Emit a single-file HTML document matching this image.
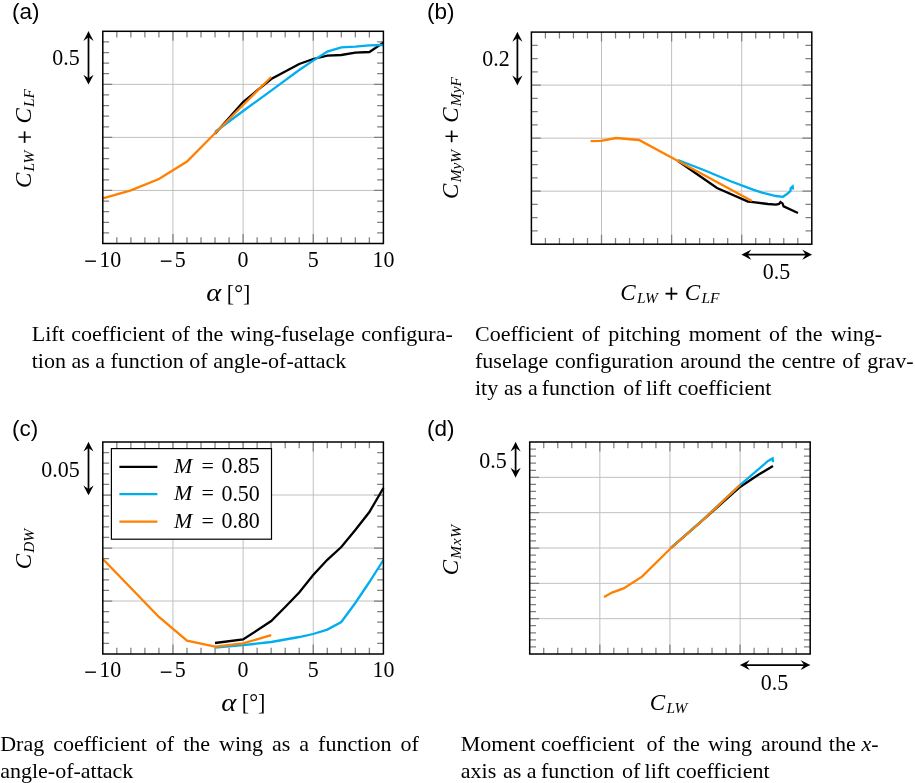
<!DOCTYPE html>
<html lang="en"><head><meta charset="utf-8"><title>Aerodynamic coefficients</title>
<style>html,body{margin:0;padding:0;background:#fff}body{width:915px;height:783px;overflow:hidden}svg{display:block}</style>
</head><body>
<svg width="915" height="783" viewBox="0 0 915 783">
<rect width="915" height="783" fill="#fff"/>
<g id="pa">
<line x1="172.95" y1="31.3" x2="172.95" y2="243.5" stroke="#c0c0c0" stroke-width="1"/>
<line x1="243.10" y1="31.3" x2="243.10" y2="243.5" stroke="#c0c0c0" stroke-width="1"/>
<line x1="313.25" y1="31.3" x2="313.25" y2="243.5" stroke="#c0c0c0" stroke-width="1"/>
<line x1="102.8" y1="84.35" x2="383.40" y2="84.35" stroke="#c0c0c0" stroke-width="1"/>
<line x1="102.8" y1="137.40" x2="383.40" y2="137.40" stroke="#c0c0c0" stroke-width="1"/>
<line x1="102.8" y1="190.45" x2="383.40" y2="190.45" stroke="#c0c0c0" stroke-width="1"/>
<path d="M116.83,31.3v6.3M116.83,243.5v-6.3M130.86,31.3v6.3M130.86,243.5v-6.3M144.89,31.3v6.3M144.89,243.5v-6.3M158.92,31.3v6.3M158.92,243.5v-6.3M172.95,31.3v9.4M172.95,243.5v-9.4M186.98,31.3v6.3M186.98,243.5v-6.3M201.01,31.3v6.3M201.01,243.5v-6.3M215.04,31.3v6.3M215.04,243.5v-6.3M229.07,31.3v6.3M229.07,243.5v-6.3M243.10,31.3v9.4M243.10,243.5v-9.4M257.13,31.3v6.3M257.13,243.5v-6.3M271.16,31.3v6.3M271.16,243.5v-6.3M285.19,31.3v6.3M285.19,243.5v-6.3M299.22,31.3v6.3M299.22,243.5v-6.3M313.25,31.3v9.4M313.25,243.5v-9.4M327.28,31.3v6.3M327.28,243.5v-6.3M341.31,31.3v6.3M341.31,243.5v-6.3M355.34,31.3v6.3M355.34,243.5v-6.3M369.37,31.3v6.3M369.37,243.5v-6.3M102.8,41.91h6.3M383.40,41.91h-6.3M102.8,52.52h6.3M383.40,52.52h-6.3M102.8,63.13h6.3M383.40,63.13h-6.3M102.8,73.74h6.3M383.40,73.74h-6.3M102.8,84.35h9.4M383.40,84.35h-9.4M102.8,94.96h6.3M383.40,94.96h-6.3M102.8,105.57h6.3M383.40,105.57h-6.3M102.8,116.18h6.3M383.40,116.18h-6.3M102.8,126.79h6.3M383.40,126.79h-6.3M102.8,137.40h9.4M383.40,137.40h-9.4M102.8,148.01h6.3M383.40,148.01h-6.3M102.8,158.62h6.3M383.40,158.62h-6.3M102.8,169.23h6.3M383.40,169.23h-6.3M102.8,179.84h6.3M383.40,179.84h-6.3M102.8,190.45h9.4M383.40,190.45h-9.4M102.8,201.06h6.3M383.40,201.06h-6.3M102.8,211.67h6.3M383.40,211.67h-6.3M102.8,222.28h6.3M383.40,222.28h-6.3M102.8,232.89h6.3M383.40,232.89h-6.3" stroke="#808080" stroke-width="1.25" fill="none"/>
<polyline points="215.0,133.8 243.1,102.0 271.2,79.0 299.2,64.0 313.2,59.0 327.3,55.6 341.3,55.0 355.3,52.6 369.4,52.0 383.4,42.6" fill="none" stroke="#000" stroke-width="2.3" stroke-linejoin="miter" stroke-miterlimit="6"/>
<polyline points="215.0,132.0 243.1,111.0 271.2,90.6 299.2,70.0 313.2,60.6 327.3,51.6 341.3,47.4 355.3,46.6 369.4,45.4 383.4,45.0" fill="none" stroke="#00aeef" stroke-width="2.3" stroke-linejoin="miter" stroke-miterlimit="6"/>
<polyline points="102.8,198.4 130.9,190.4 158.9,179.0 187.0,161.6 215.0,133.3 243.1,105.0 271.2,77.0" fill="none" stroke="#ff8000" stroke-width="2.3" stroke-linejoin="miter" stroke-miterlimit="6"/>
<rect x="102.8" y="31.3" width="280.6" height="212.2" fill="none" stroke="#000" stroke-width="1.5"/>
<line x1="88.50" y1="35.30" x2="88.50" y2="80.30" stroke="#000" stroke-width="1.75"/>
<path d="M0.3,0 C-2.6,-1.3 -6,-3.2 -9.6,-5.1 L-6.0,0 L-9.6,5.1 C-6,3.2 -2.6,1.3 0.3,0Z" transform="translate(88.50,84.30) rotate(90.0)" fill="#000"/>
<path d="M0.3,0 C-2.6,-1.3 -6,-3.2 -9.6,-5.1 L-6.0,0 L-9.6,5.1 C-6,3.2 -2.6,1.3 0.3,0Z" transform="translate(88.50,31.30) rotate(270.0)" fill="#000"/>
<text transform="translate(79.7,65.2) scale(0.915,1)" text-anchor="end" font-family="'Liberation Serif', 'Times New Roman', serif" font-size="24">0.5</text>
<text transform="translate(102.8,266.5) scale(0.915,1)" text-anchor="middle" font-family="'Liberation Serif', 'Times New Roman', serif" font-size="24"><tspan dy="2.6" stroke="#000" stroke-width="0.35">−</tspan><tspan dy="-2.6" dx="2.6">10</tspan></text>
<text transform="translate(172.9,266.5) scale(0.915,1)" text-anchor="middle" font-family="'Liberation Serif', 'Times New Roman', serif" font-size="24"><tspan dy="2.6" stroke="#000" stroke-width="0.35">−</tspan><tspan dy="-2.6" dx="2.6">5</tspan></text>
<text transform="translate(243.1,266.5) scale(0.915,1)" text-anchor="middle" font-family="'Liberation Serif', 'Times New Roman', serif" font-size="24">0</text>
<text transform="translate(313.2,266.5) scale(0.915,1)" text-anchor="middle" font-family="'Liberation Serif', 'Times New Roman', serif" font-size="24">5</text>
<text transform="translate(383.4,266.5) scale(0.915,1)" text-anchor="middle" font-family="'Liberation Serif', 'Times New Roman', serif" font-size="24">10</text>
<text x="11.9" y="18.6" text-anchor="start" font-family="'Liberation Sans', Arial, sans-serif" font-size="22.5" >(a)</text>
<text transform="translate(30.6,138.5) rotate(-90)" text-anchor="middle" font-family="'Liberation Serif', 'Times New Roman', serif" font-size="22"><tspan font-style="italic" font-size="23.1" dy="0.3" dx="0">C</tspan><tspan font-style="italic" font-size="15.4" dy="2.9" dx="1.2">LW</tspan><tspan dy="-1.2" dx="0.5" font-size="24.5" stroke="#000" stroke-width="0.3"> + </tspan><tspan font-style="italic" font-size="23.1" dy="-1.7" dx="0.5">C</tspan><tspan font-style="italic" font-size="15.4" dy="2.9" dx="1.2">LF</tspan></text>
<text transform="translate(206.2,301.0) scale(1.17,1)" font-family="'Liberation Serif', 'Times New Roman', serif" font-size="24.5" font-style="italic">α</text>
<text transform="translate(226.8,300.6) scale(0.94,1)" font-family="'Liberation Serif', 'Times New Roman', serif" font-size="23.5">[°]</text>
</g>
<g id="pb">
<line x1="601.50" y1="32.1" x2="601.50" y2="244.2" stroke="#c0c0c0" stroke-width="1"/>
<line x1="671.60" y1="32.1" x2="671.60" y2="244.2" stroke="#c0c0c0" stroke-width="1"/>
<line x1="741.70" y1="32.1" x2="741.70" y2="244.2" stroke="#c0c0c0" stroke-width="1"/>
<line x1="531.4" y1="85.12" x2="811.80" y2="85.12" stroke="#c0c0c0" stroke-width="1"/>
<line x1="531.4" y1="138.15" x2="811.80" y2="138.15" stroke="#c0c0c0" stroke-width="1"/>
<line x1="531.4" y1="191.17" x2="811.80" y2="191.17" stroke="#c0c0c0" stroke-width="1"/>
<path d="M545.42,32.1v6.3M545.42,244.2v-6.3M559.44,32.1v6.3M559.44,244.2v-6.3M573.46,32.1v6.3M573.46,244.2v-6.3M587.48,32.1v6.3M587.48,244.2v-6.3M601.50,32.1v9.4M601.50,244.2v-9.4M615.52,32.1v6.3M615.52,244.2v-6.3M629.54,32.1v6.3M629.54,244.2v-6.3M643.56,32.1v6.3M643.56,244.2v-6.3M657.58,32.1v6.3M657.58,244.2v-6.3M671.60,32.1v9.4M671.60,244.2v-9.4M685.62,32.1v6.3M685.62,244.2v-6.3M699.64,32.1v6.3M699.64,244.2v-6.3M713.66,32.1v6.3M713.66,244.2v-6.3M727.68,32.1v6.3M727.68,244.2v-6.3M741.70,32.1v9.4M741.70,244.2v-9.4M755.72,32.1v6.3M755.72,244.2v-6.3M769.74,32.1v6.3M769.74,244.2v-6.3M783.76,32.1v6.3M783.76,244.2v-6.3M797.78,32.1v6.3M797.78,244.2v-6.3M531.4,45.36h6.3M811.80,45.36h-6.3M531.4,58.61h6.3M811.80,58.61h-6.3M531.4,71.87h6.3M811.80,71.87h-6.3M531.4,85.12h9.4M811.80,85.12h-9.4M531.4,98.38h6.3M811.80,98.38h-6.3M531.4,111.64h6.3M811.80,111.64h-6.3M531.4,124.89h6.3M811.80,124.89h-6.3M531.4,138.15h9.4M811.80,138.15h-9.4M531.4,151.41h6.3M811.80,151.41h-6.3M531.4,164.66h6.3M811.80,164.66h-6.3M531.4,177.92h6.3M811.80,177.92h-6.3M531.4,191.17h9.4M811.80,191.17h-9.4M531.4,204.43h6.3M811.80,204.43h-6.3M531.4,217.69h6.3M811.80,217.69h-6.3M531.4,230.94h6.3M811.80,230.94h-6.3" stroke="#808080" stroke-width="1.25" fill="none"/>
<polyline points="678.0,161.0 717.0,188.0 748.0,201.6 753.0,202.2 768.0,204.0 776.0,204.6 779.0,204.0 780.5,202.0 782.5,203.4 783.6,206.4 798.0,213.0" fill="none" stroke="#000" stroke-width="2.3" stroke-linejoin="miter" stroke-miterlimit="6"/>
<polyline points="678.0,160.0 705.0,170.5 730.0,181.0 753.0,189.6 762.0,192.6 776.0,196.0 783.0,196.8 787.0,194.0 790.4,191.2 790.7,188.2 792.6,186.4 792.9,188.3 791.8,188.3" fill="none" stroke="#00aeef" stroke-width="2.3" stroke-linejoin="miter" stroke-miterlimit="6"/>
<polyline points="590.6,141.2 601.0,140.8 616.0,138.0 639.0,140.0 678.0,161.0 752.0,201.0" fill="none" stroke="#ff8000" stroke-width="2.3" stroke-linejoin="miter" stroke-miterlimit="6"/>
<rect x="531.4" y="32.1" width="280.4" height="212.1" fill="none" stroke="#000" stroke-width="1.5"/>
<line x1="517.40" y1="36.10" x2="517.40" y2="81.10" stroke="#000" stroke-width="1.75"/>
<path d="M0.3,0 C-2.6,-1.3 -6,-3.2 -9.6,-5.1 L-6.0,0 L-9.6,5.1 C-6,3.2 -2.6,1.3 0.3,0Z" transform="translate(517.40,85.10) rotate(90.0)" fill="#000"/>
<path d="M0.3,0 C-2.6,-1.3 -6,-3.2 -9.6,-5.1 L-6.0,0 L-9.6,5.1 C-6,3.2 -2.6,1.3 0.3,0Z" transform="translate(517.40,32.10) rotate(270.0)" fill="#000"/>
<text transform="translate(509.7,66.2) scale(0.915,1)" text-anchor="end" font-family="'Liberation Serif', 'Times New Roman', serif" font-size="24">0.2</text>
<line x1="745.70" y1="254.70" x2="807.80" y2="254.70" stroke="#000" stroke-width="1.75"/>
<path d="M0.3,0 C-2.6,-1.3 -6,-3.2 -9.6,-5.1 L-6.0,0 L-9.6,5.1 C-6,3.2 -2.6,1.3 0.3,0Z" transform="translate(811.80,254.70) rotate(0.0)" fill="#000"/>
<path d="M0.3,0 C-2.6,-1.3 -6,-3.2 -9.6,-5.1 L-6.0,0 L-9.6,5.1 C-6,3.2 -2.6,1.3 0.3,0Z" transform="translate(741.70,254.70) rotate(180.0)" fill="#000"/>
<text transform="translate(776.5,278.6) scale(0.915,1)" text-anchor="middle" font-family="'Liberation Serif', 'Times New Roman', serif" font-size="24">0.5</text>
<text x="426.9" y="19" text-anchor="start" font-family="'Liberation Sans', Arial, sans-serif" font-size="22.5" >(b)</text>
<text transform="translate(458,138) rotate(-90)" text-anchor="middle" font-family="'Liberation Serif', 'Times New Roman', serif" font-size="22"><tspan font-style="italic" font-size="23.1" dy="0.3" dx="0">C</tspan><tspan font-style="italic" font-size="15.4" dy="2.9" dx="1.2">MyW</tspan><tspan dy="-1.2" dx="0.5" font-size="24.5" stroke="#000" stroke-width="0.3"> + </tspan><tspan font-style="italic" font-size="23.1" dy="-1.7" dx="0.5">C</tspan><tspan font-style="italic" font-size="15.4" dy="2.9" dx="1.2">MyF</tspan></text>
<text x="669.9" y="300.1" text-anchor="middle" font-family="'Liberation Serif', 'Times New Roman', serif" font-size="22" ><tspan font-style="italic" font-size="23.1" dy="0.3" dx="0">C</tspan><tspan font-style="italic" font-size="15.4" dy="2.9" dx="1.2">LW</tspan><tspan dy="-1.2" dx="0.5" font-size="24.5" stroke="#000" stroke-width="0.3"> + </tspan><tspan font-style="italic" font-size="23.1" dy="-1.7" dx="0.5">C</tspan><tspan font-style="italic" font-size="15.4" dy="2.9" dx="1.2">LF</tspan></text>
</g>
<g id="pc">
<line x1="172.95" y1="442" x2="172.95" y2="654" stroke="#c0c0c0" stroke-width="1"/>
<line x1="243.10" y1="442" x2="243.10" y2="654" stroke="#c0c0c0" stroke-width="1"/>
<line x1="313.25" y1="442" x2="313.25" y2="654" stroke="#c0c0c0" stroke-width="1"/>
<line x1="102.8" y1="495.00" x2="383.40" y2="495.00" stroke="#c0c0c0" stroke-width="1"/>
<line x1="102.8" y1="548.00" x2="383.40" y2="548.00" stroke="#c0c0c0" stroke-width="1"/>
<line x1="102.8" y1="601.00" x2="383.40" y2="601.00" stroke="#c0c0c0" stroke-width="1"/>
<path d="M116.83,442v6.3M116.83,654v-6.3M130.86,442v6.3M130.86,654v-6.3M144.89,442v6.3M144.89,654v-6.3M158.92,442v6.3M158.92,654v-6.3M172.95,442v9.4M172.95,654v-9.4M186.98,442v6.3M186.98,654v-6.3M201.01,442v6.3M201.01,654v-6.3M215.04,442v6.3M215.04,654v-6.3M229.07,442v6.3M229.07,654v-6.3M243.10,442v9.4M243.10,654v-9.4M257.13,442v6.3M257.13,654v-6.3M271.16,442v6.3M271.16,654v-6.3M285.19,442v6.3M285.19,654v-6.3M299.22,442v6.3M299.22,654v-6.3M313.25,442v9.4M313.25,654v-9.4M327.28,442v6.3M327.28,654v-6.3M341.31,442v6.3M341.31,654v-6.3M355.34,442v6.3M355.34,654v-6.3M369.37,442v6.3M369.37,654v-6.3M102.8,452.60h6.3M383.40,452.60h-6.3M102.8,463.20h6.3M383.40,463.20h-6.3M102.8,473.80h6.3M383.40,473.80h-6.3M102.8,484.40h6.3M383.40,484.40h-6.3M102.8,495.00h9.4M383.40,495.00h-9.4M102.8,505.60h6.3M383.40,505.60h-6.3M102.8,516.20h6.3M383.40,516.20h-6.3M102.8,526.80h6.3M383.40,526.80h-6.3M102.8,537.40h6.3M383.40,537.40h-6.3M102.8,548.00h9.4M383.40,548.00h-9.4M102.8,558.60h6.3M383.40,558.60h-6.3M102.8,569.20h6.3M383.40,569.20h-6.3M102.8,579.80h6.3M383.40,579.80h-6.3M102.8,590.40h6.3M383.40,590.40h-6.3M102.8,601.00h9.4M383.40,601.00h-9.4M102.8,611.60h6.3M383.40,611.60h-6.3M102.8,622.20h6.3M383.40,622.20h-6.3M102.8,632.80h6.3M383.40,632.80h-6.3M102.8,643.40h6.3M383.40,643.40h-6.3" stroke="#808080" stroke-width="1.25" fill="none"/>
<polyline points="215.0,643.0 243.1,639.5 271.2,621.0 285.2,607.0 299.2,592.5 313.2,575.0 327.3,559.8 341.3,547.0 355.3,530.0 369.4,512.0 383.4,488.0" fill="none" stroke="#000" stroke-width="2.3" stroke-linejoin="miter" stroke-miterlimit="6"/>
<polyline points="215.0,647.6 243.1,645.2 271.2,642.0 299.2,637.0 313.2,634.0 327.3,629.6 341.3,622.0 355.3,603.0 369.4,582.0 383.4,560.0" fill="none" stroke="#00aeef" stroke-width="2.3" stroke-linejoin="miter" stroke-miterlimit="6"/>
<polyline points="102.8,559.0 130.9,588.0 158.9,617.0 187.0,640.6 215.0,646.6 243.1,643.4 271.2,635.2" fill="none" stroke="#ff8000" stroke-width="2.3" stroke-linejoin="miter" stroke-miterlimit="6"/>
<rect x="111.4" y="448.6" width="160.1" height="90.6" fill="#fff" stroke="#000" stroke-width="1.2"/>
<line x1="119.4" y1="466.8" x2="157.4" y2="466.8" stroke="#000" stroke-width="2.3"/>
<text x="174" y="473.0" text-anchor="start" font-family="'Liberation Serif', 'Times New Roman', serif" font-size="22" ><tspan font-style="italic">M</tspan><tspan dx="3.6"> =</tspan></text>
<text transform="translate(221.4,473.1) scale(0.915,1)" text-anchor="start" font-family="'Liberation Serif', 'Times New Roman', serif" font-size="24">0.85</text>
<line x1="119.4" y1="494.2" x2="157.4" y2="494.2" stroke="#00aeef" stroke-width="2.3"/>
<text x="174" y="500.4" text-anchor="start" font-family="'Liberation Serif', 'Times New Roman', serif" font-size="22" ><tspan font-style="italic">M</tspan><tspan dx="3.6"> =</tspan></text>
<text transform="translate(221.4,500.5) scale(0.915,1)" text-anchor="start" font-family="'Liberation Serif', 'Times New Roman', serif" font-size="24">0.50</text>
<line x1="119.4" y1="521.6" x2="157.4" y2="521.6" stroke="#ff8000" stroke-width="2.3"/>
<text x="174" y="527.8" text-anchor="start" font-family="'Liberation Serif', 'Times New Roman', serif" font-size="22" ><tspan font-style="italic">M</tspan><tspan dx="3.6"> =</tspan></text>
<text transform="translate(221.4,527.9) scale(0.915,1)" text-anchor="start" font-family="'Liberation Serif', 'Times New Roman', serif" font-size="24">0.80</text>
<rect x="102.8" y="442" width="280.6" height="212" fill="none" stroke="#000" stroke-width="1.5"/>
<line x1="88.50" y1="446.00" x2="88.50" y2="491.00" stroke="#000" stroke-width="1.75"/>
<path d="M0.3,0 C-2.6,-1.3 -6,-3.2 -9.6,-5.1 L-6.0,0 L-9.6,5.1 C-6,3.2 -2.6,1.3 0.3,0Z" transform="translate(88.50,495.00) rotate(90.0)" fill="#000"/>
<path d="M0.3,0 C-2.6,-1.3 -6,-3.2 -9.6,-5.1 L-6.0,0 L-9.6,5.1 C-6,3.2 -2.6,1.3 0.3,0Z" transform="translate(88.50,442.00) rotate(270.0)" fill="#000"/>
<text transform="translate(79.7,476.7) scale(0.915,1)" text-anchor="end" font-family="'Liberation Serif', 'Times New Roman', serif" font-size="24">0.05</text>
<text transform="translate(102.8,677.0) scale(0.915,1)" text-anchor="middle" font-family="'Liberation Serif', 'Times New Roman', serif" font-size="24"><tspan dy="2.6" stroke="#000" stroke-width="0.35">−</tspan><tspan dy="-2.6" dx="2.6">10</tspan></text>
<text transform="translate(172.9,677.0) scale(0.915,1)" text-anchor="middle" font-family="'Liberation Serif', 'Times New Roman', serif" font-size="24"><tspan dy="2.6" stroke="#000" stroke-width="0.35">−</tspan><tspan dy="-2.6" dx="2.6">5</tspan></text>
<text transform="translate(243.1,677.0) scale(0.915,1)" text-anchor="middle" font-family="'Liberation Serif', 'Times New Roman', serif" font-size="24">0</text>
<text transform="translate(313.2,677.0) scale(0.915,1)" text-anchor="middle" font-family="'Liberation Serif', 'Times New Roman', serif" font-size="24">5</text>
<text transform="translate(383.4,677.0) scale(0.915,1)" text-anchor="middle" font-family="'Liberation Serif', 'Times New Roman', serif" font-size="24">10</text>
<text x="11.9" y="436" text-anchor="start" font-family="'Liberation Sans', Arial, sans-serif" font-size="22.5" >(c)</text>
<text transform="translate(30.4,549.1) rotate(-90)" text-anchor="middle" font-family="'Liberation Serif', 'Times New Roman', serif" font-size="22"><tspan font-style="italic" font-size="23.1" dy="0.3" dx="0">C</tspan><tspan font-style="italic" font-size="15.4" dy="2.9" dx="1.2">DW</tspan></text>
<text transform="translate(221.2,710.7) scale(1.17,1)" font-family="'Liberation Serif', 'Times New Roman', serif" font-size="24.5" font-style="italic">α</text>
<text transform="translate(241.8,710.3) scale(0.94,1)" font-family="'Liberation Serif', 'Times New Roman', serif" font-size="23.5">[°]</text>
</g>
<g id="pd">
<line x1="599.83" y1="442" x2="599.83" y2="654" stroke="#c0c0c0" stroke-width="1"/>
<line x1="669.95" y1="442" x2="669.95" y2="654" stroke="#c0c0c0" stroke-width="1"/>
<line x1="740.08" y1="442" x2="740.08" y2="654" stroke="#c0c0c0" stroke-width="1"/>
<line x1="529.7" y1="477.33" x2="810.20" y2="477.33" stroke="#c0c0c0" stroke-width="1"/>
<line x1="529.7" y1="512.67" x2="810.20" y2="512.67" stroke="#c0c0c0" stroke-width="1"/>
<line x1="529.7" y1="548.00" x2="810.20" y2="548.00" stroke="#c0c0c0" stroke-width="1"/>
<line x1="529.7" y1="583.33" x2="810.20" y2="583.33" stroke="#c0c0c0" stroke-width="1"/>
<line x1="529.7" y1="618.67" x2="810.20" y2="618.67" stroke="#c0c0c0" stroke-width="1"/>
<path d="M543.73,442v6.3M543.73,654v-6.3M557.75,442v6.3M557.75,654v-6.3M571.78,442v6.3M571.78,654v-6.3M585.80,442v6.3M585.80,654v-6.3M599.83,442v9.4M599.83,654v-9.4M613.85,442v6.3M613.85,654v-6.3M627.88,442v6.3M627.88,654v-6.3M641.90,442v6.3M641.90,654v-6.3M655.93,442v6.3M655.93,654v-6.3M669.95,442v9.4M669.95,654v-9.4M683.98,442v6.3M683.98,654v-6.3M698.00,442v6.3M698.00,654v-6.3M712.03,442v6.3M712.03,654v-6.3M726.05,442v6.3M726.05,654v-6.3M740.08,442v9.4M740.08,654v-9.4M754.10,442v6.3M754.10,654v-6.3M768.12,442v6.3M768.12,654v-6.3M782.15,442v6.3M782.15,654v-6.3M796.18,442v6.3M796.18,654v-6.3M529.7,449.07h6.3M810.20,449.07h-6.3M529.7,456.13h6.3M810.20,456.13h-6.3M529.7,463.20h6.3M810.20,463.20h-6.3M529.7,470.27h6.3M810.20,470.27h-6.3M529.7,477.33h9.4M810.20,477.33h-9.4M529.7,484.40h6.3M810.20,484.40h-6.3M529.7,491.47h6.3M810.20,491.47h-6.3M529.7,498.53h6.3M810.20,498.53h-6.3M529.7,505.60h6.3M810.20,505.60h-6.3M529.7,512.67h9.4M810.20,512.67h-9.4M529.7,519.73h6.3M810.20,519.73h-6.3M529.7,526.80h6.3M810.20,526.80h-6.3M529.7,533.87h6.3M810.20,533.87h-6.3M529.7,540.93h6.3M810.20,540.93h-6.3M529.7,548.00h9.4M810.20,548.00h-9.4M529.7,555.07h6.3M810.20,555.07h-6.3M529.7,562.13h6.3M810.20,562.13h-6.3M529.7,569.20h6.3M810.20,569.20h-6.3M529.7,576.27h6.3M810.20,576.27h-6.3M529.7,583.33h9.4M810.20,583.33h-9.4M529.7,590.40h6.3M810.20,590.40h-6.3M529.7,597.47h6.3M810.20,597.47h-6.3M529.7,604.53h6.3M810.20,604.53h-6.3M529.7,611.60h6.3M810.20,611.60h-6.3M529.7,618.67h9.4M810.20,618.67h-9.4M529.7,625.73h6.3M810.20,625.73h-6.3M529.7,632.80h6.3M810.20,632.80h-6.3M529.7,639.87h6.3M810.20,639.87h-6.3M529.7,646.93h6.3M810.20,646.93h-6.3" stroke="#808080" stroke-width="1.25" fill="none"/>
<polyline points="671.0,548.0 703.0,520.0 740.0,487.0 758.0,475.0 773.0,466.0" fill="none" stroke="#000" stroke-width="2.3" stroke-linejoin="miter" stroke-miterlimit="6"/>
<polyline points="671.0,547.6 703.0,519.6 740.0,485.0 768.0,461.0 772.6,458.4 773.0,462.2" fill="none" stroke="#00aeef" stroke-width="2.3" stroke-linejoin="miter" stroke-miterlimit="6"/>
<polyline points="604.0,597.0 612.0,592.6 623.6,588.4 642.0,576.6 671.0,548.0 703.0,520.0 740.0,485.0" fill="none" stroke="#ff8000" stroke-width="2.3" stroke-linejoin="miter" stroke-miterlimit="6"/>
<rect x="529.7" y="442" width="280.5" height="212" fill="none" stroke="#000" stroke-width="1.5"/>
<line x1="515.60" y1="446.00" x2="515.60" y2="473.33" stroke="#000" stroke-width="1.75"/>
<path d="M0.3,0 C-2.6,-1.3 -6,-3.2 -9.6,-5.1 L-6.0,0 L-9.6,5.1 C-6,3.2 -2.6,1.3 0.3,0Z" transform="translate(515.60,477.33) rotate(90.0)" fill="#000"/>
<path d="M0.3,0 C-2.6,-1.3 -6,-3.2 -9.6,-5.1 L-6.0,0 L-9.6,5.1 C-6,3.2 -2.6,1.3 0.3,0Z" transform="translate(515.60,442.00) rotate(270.0)" fill="#000"/>
<text transform="translate(506.8,467.5) scale(0.915,1)" text-anchor="end" font-family="'Liberation Serif', 'Times New Roman', serif" font-size="24">0.5</text>
<line x1="744.08" y1="665.00" x2="806.20" y2="665.00" stroke="#000" stroke-width="1.75"/>
<path d="M0.3,0 C-2.6,-1.3 -6,-3.2 -9.6,-5.1 L-6.0,0 L-9.6,5.1 C-6,3.2 -2.6,1.3 0.3,0Z" transform="translate(810.20,665.00) rotate(0.0)" fill="#000"/>
<path d="M0.3,0 C-2.6,-1.3 -6,-3.2 -9.6,-5.1 L-6.0,0 L-9.6,5.1 C-6,3.2 -2.6,1.3 0.3,0Z" transform="translate(740.08,665.00) rotate(180.0)" fill="#000"/>
<text transform="translate(774.5,689.6) scale(0.915,1)" text-anchor="middle" font-family="'Liberation Serif', 'Times New Roman', serif" font-size="24">0.5</text>
<text x="426.9" y="435.6" text-anchor="start" font-family="'Liberation Sans', Arial, sans-serif" font-size="22.5" >(d)</text>
<text transform="translate(457.6,549.7) rotate(-90)" text-anchor="middle" font-family="'Liberation Serif', 'Times New Roman', serif" font-size="22"><tspan font-style="italic" font-size="23.1" dy="0.3" dx="0">C</tspan><tspan font-style="italic" font-size="15.4" dy="2.9" dx="1.2" letter-spacing="0.7">MxW</tspan></text>
<text x="668.5" y="710" text-anchor="middle" font-family="'Liberation Serif', 'Times New Roman', serif" font-size="22" ><tspan font-style="italic" font-size="23.1" dy="0.3" dx="0">C</tspan><tspan font-style="italic" font-size="15.4" dy="2.9" dx="1.2">LW</tspan></text>
</g>
<g id="captions">
<text x="31.7" y="340.7" text-anchor="start" font-family="'Liberation Serif', 'Times New Roman', serif" font-size="22" word-spacing="1.1">Lift coefficient of the wing-fuselage configura-</text>
<text x="31.7" y="367.6" text-anchor="start" font-family="'Liberation Serif', 'Times New Roman', serif" font-size="22" >tion as a function of angle-of-attack</text>
<text x="475.0" y="340.7" text-anchor="start" font-family="'Liberation Serif', 'Times New Roman', serif" font-size="22" word-spacing="2.73">Coefficient of pitching moment of the wing-</text>
<text x="475.0" y="367.7" text-anchor="start" font-family="'Liberation Serif', 'Times New Roman', serif" font-size="22" word-spacing="1.23">fuselage configuration around the centre of grav-</text>
<text x="475.0" y="394.5" text-anchor="start" font-family="'Liberation Serif', 'Times New Roman', serif" font-size="22" word-spacing="0.2">ity as a <tspan dx="-1.75">function</tspan> <tspan dx="2.5">of</tspan> <tspan dx="-1.25">lift</tspan> <tspan dx="0.3">coefficient</tspan></text>
<text x="0.2" y="750.9" text-anchor="start" font-family="'Liberation Serif', 'Times New Roman', serif" font-size="22" word-spacing="3.5">Drag coefficient of the wing as a function of</text>
<text x="0.2" y="777.5" text-anchor="start" font-family="'Liberation Serif', 'Times New Roman', serif" font-size="22" >angle-of-attack</text>
<text x="460.8" y="750.5" text-anchor="start" font-family="'Liberation Serif', 'Times New Roman', serif" font-size="22" word-spacing="2.2">Moment <tspan dx="-2">coefficient</tspan> <tspan dx="4">of</tspan> <tspan dx="0.5">the</tspan> <tspan dx="0.5">wing</tspan> <tspan dx="1.25">around</tspan> <tspan dx="-1">the</tspan> <tspan dx="-2"><tspan font-style="italic">x</tspan>-</tspan></text>
<text x="460.8" y="777.5" text-anchor="start" font-family="'Liberation Serif', 'Times New Roman', serif" font-size="22" word-spacing="0.6">axis <tspan dx="0.75">as</tspan> <tspan dx="-0.75">a</tspan> <tspan dx="-1.75">function</tspan> <tspan dx="1.75">of</tspan> <tspan dx="-2">lift</tspan> <tspan dx="-0.4">coefficient</tspan></text>
</g>
</svg>
</body></html>
